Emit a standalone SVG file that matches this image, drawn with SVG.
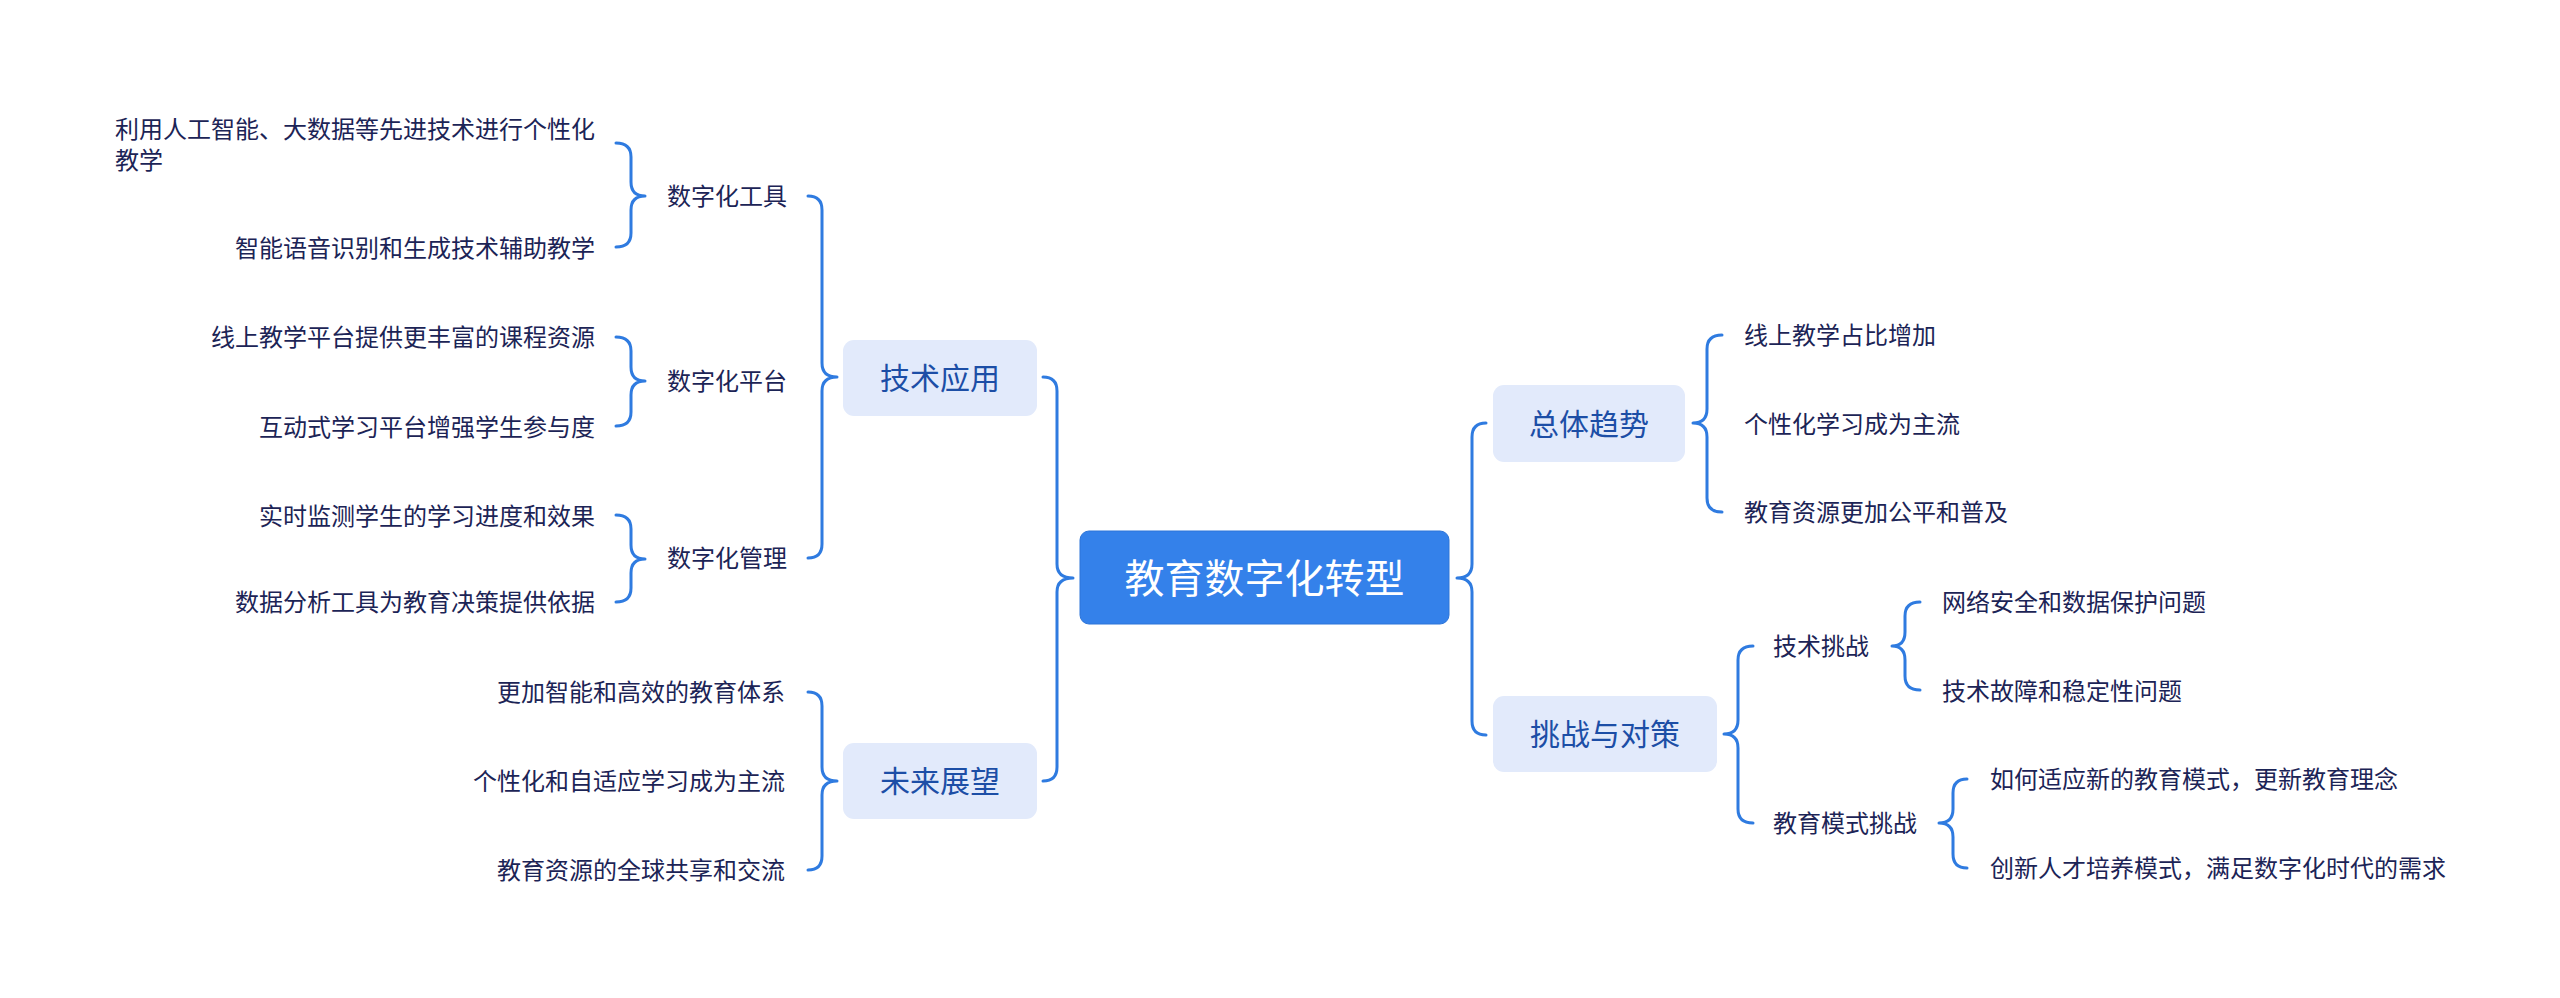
<svg xmlns="http://www.w3.org/2000/svg" width="2560" height="998" viewBox="0 0 2560 998">
<style>
text{font-family:"Noto Sans CJK SC","Noto Sans",sans-serif;}
.root{fill:#3481ea;stroke:#2c74d8;stroke-width:1}
.rootT{fill:#ffffff;font-size:40px;text-anchor:middle}
.sub{fill:#e2eafb}
.subT{fill:#1c4ea6;font-size:30px;text-anchor:middle}
.leaf{fill:#1c2456;font-size:24px}
.e{text-anchor:end}
.br{fill:none;stroke:#2f7be0;stroke-width:3;stroke-linecap:round;stroke-linejoin:round}
</style>
<rect width="2560" height="998" fill="#ffffff"/>
<g id="connectors">
<path class="br" d="M1043 377 Q1057 377 1057 391 L1057 564 Q1057 578 1073 578 Q1057 578 1057 592 L1057 767 Q1057 781 1043 781"/>
<path class="br" d="M1486 423 Q1472 423 1472 437 L1472 564 Q1472 578 1457 578 Q1472 578 1472 592 L1472 721 Q1472 735 1486 735"/>
<path class="br" d="M808 196 Q822 196 822 210 L822 363 Q822 377 837 377 Q822 377 822 391 L822 544 Q822 558 808 558"/>
<path class="br" d="M616 143 Q631 143 631 157 L631 182 Q631 196 645 196 Q631 196 631 210 L631 233 Q631 247 616 247"/>
<path class="br" d="M616 337 Q631 337 631 351 L631 367 Q631 381 645 381 Q631 381 631 395 L631 412 Q631 426 616 426"/>
<path class="br" d="M616 515 Q631 515 631 529 L631 545 Q631 559 645 559 Q631 559 631 573 L631 588 Q631 602 616 602"/>
<path class="br" d="M808 692 Q822 692 822 706 L822 767 Q822 781 837 781 Q822 781 822 795 L822 856 Q822 870 808 870"/>
<path class="br" d="M1722 335 Q1707 335 1707 349 L1707 409 Q1707 423 1693 423 Q1707 423 1707 437 L1707 498 Q1707 512 1722 512"/>
<path class="br" d="M1753 646 Q1738 646 1738 660 L1738 720 Q1738 734 1724 734 Q1738 734 1738 748 L1738 809 Q1738 823 1753 823"/>
<path class="br" d="M1920 602 Q1905 602 1905 616 L1905 632 Q1905 646 1892 646 Q1905 646 1905 660 L1905 676 Q1905 690 1920 690"/>
<path class="br" d="M1967 779 Q1953 779 1953 793 L1953 809 Q1953 823 1939 823 Q1953 823 1953 837 L1953 854 Q1953 868 1967 868"/>
</g>
<g id="root">
<rect class="root" x="1080" y="531" width="369" height="93" rx="9"/>
<text class="rootT" x="1264.5" y="592.5">教育数字化转型</text>
</g>
<g id="n-jishuyingyong">
<rect class="sub" x="843" y="340" width="194" height="76" rx="11"/>
<text class="subT" x="940" y="389">技术应用</text>
</g>
<g id="n-weilaizhanwang">
<rect class="sub" x="843" y="743" width="194" height="76" rx="11"/>
<text class="subT" x="940" y="792">未来展望</text>
</g>
<g id="n-zongtiqushi">
<rect class="sub" x="1493" y="385" width="192" height="77" rx="11"/>
<text class="subT" x="1589" y="434.5">总体趋势</text>
</g>
<g id="n-tiaozhan">
<rect class="sub" x="1493" y="696" width="224" height="76" rx="11"/>
<text class="subT" x="1605" y="745">挑战与对策</text>
</g>
<g id="n-gongju"><text class="leaf" x="667" y="205">数字化工具</text></g>
<g id="n-pingtai"><text class="leaf" x="667" y="390">数字化平台</text></g>
<g id="n-guanli"><text class="leaf" x="667" y="567">数字化管理</text></g>
<g id="n-l1"><text class="leaf" x="115" y="138">利用人工智能、大数据等先进技术进行个性化</text><text class="leaf" x="115" y="169">教学</text></g>
<g id="n-l2"><text class="leaf e" x="595" y="257">智能语音识别和生成技术辅助教学</text></g>
<g id="n-l3"><text class="leaf e" x="595" y="346">线上教学平台提供更丰富的课程资源</text></g>
<g id="n-l4"><text class="leaf e" x="595" y="436">互动式学习平台增强学生参与度</text></g>
<g id="n-l5"><text class="leaf e" x="595" y="525">实时监测学生的学习进度和效果</text></g>
<g id="n-l6"><text class="leaf e" x="595" y="611">数据分析工具为教育决策提供依据</text></g>
<g id="n-f1"><text class="leaf e" x="785" y="701">更加智能和高效的教育体系</text></g>
<g id="n-f2"><text class="leaf e" x="785" y="790">个性化和自适应学习成为主流</text></g>
<g id="n-f3"><text class="leaf e" x="785" y="879">教育资源的全球共享和交流</text></g>
<g id="n-t1"><text class="leaf" x="1744" y="344">线上教学占比增加</text></g>
<g id="n-t2"><text class="leaf" x="1744" y="433">个性化学习成为主流</text></g>
<g id="n-t3"><text class="leaf" x="1744" y="521">教育资源更加公平和普及</text></g>
<g id="n-jstz"><text class="leaf" x="1773" y="655">技术挑战</text></g>
<g id="n-jymstz"><text class="leaf" x="1773" y="832">教育模式挑战</text></g>
<g id="n-c1"><text class="leaf" x="1942" y="611">网络安全和数据保护问题</text></g>
<g id="n-c2"><text class="leaf" x="1942" y="700">技术故障和稳定性问题</text></g>
<g id="n-c3"><text class="leaf" x="1990" y="788">如何适应新的教育模式，更新教育理念</text></g>
<g id="n-c4"><text class="leaf" x="1990" y="877">创新人才培养模式，满足数字化时代的需求</text></g>
</svg>
